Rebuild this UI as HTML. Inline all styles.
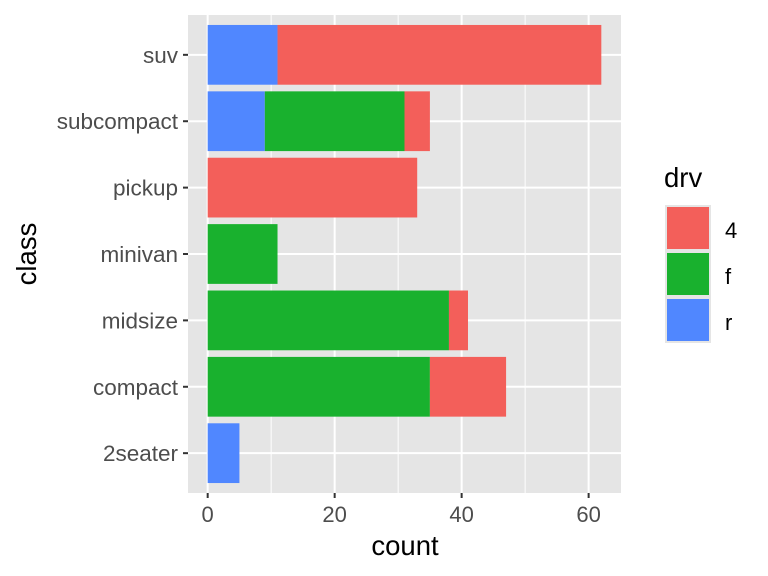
<!DOCTYPE html>
<html><head><meta charset="utf-8"><style>body{margin:0;background:#fff}svg{display:block;font-family:"Liberation Sans",Arial,sans-serif}</style></head>
<body>
<svg id="chart" width="768" height="576" viewBox="0 0 768 576" xmlns="http://www.w3.org/2000/svg">
<rect x="188" y="15" width="433" height="478" fill="#E5E5E5"/>
<g id="grid"></g><g id="bars"></g><g id="axes"></g>
<text x="405" y="555" font-size="27.5" text-anchor="middle">count</text>
<text x="36" y="254" font-size="27.5" text-anchor="middle" transform="rotate(-90 36 254)">class</text>
<g id="legend"><text x="664" y="187" font-size="27.5">drv</text></g>
</svg>
<script>
const categories=["2seater","compact","midsize","minivan","pickup","subcompact","suv"];
const valsR=[5,0,0,0,0,9,11];
const valsF=[0,35,38,11,0,22,0];
const vals4=[0,12,3,0,33,4,51];
const xTicks=[0,20,40,60];
const drvLevels=["4","f","r"];
const colors={"4":"#F35F5A","f":"#19B12E","r":"#5087FF"};
const NS="http://www.w3.org/2000/svg";
const x0=188,x1=621,y0=15,y1=493,xmin=-3.1,xmax=65.1;
const xs=v=>x0+(v-xmin)/(xmax-xmin)*(x1-x0);
const band=(y1-y0)/(categories.length+0.2);
const yc=i=>y1-band*(0.6+i);
function mk(t,a,p){const e=document.createElementNS(NS,t);for(const k in a)e.setAttribute(k,a[k]);(p||document.getElementById('chart')).appendChild(e);return e;}
const g=document.getElementById('grid'),b=document.getElementById('bars'),ax=document.getElementById('axes'),lg=document.getElementById('legend');
for(let i=0;i<xTicks.length-1;i++){const m=(xTicks[i]+xTicks[i+1])/2;const l=mk('line',{x1:xs(m),x2:xs(m),y1:y0,y2:y1,stroke:'#fff','stroke-width':1},g);

}
xTicks.forEach(t=>{const l=mk('line',{x1:xs(t),x2:xs(t),y1:y0,y2:y1,stroke:'#fff','stroke-width':2},g);


const tk=mk('line',{x1:xs(t),x2:xs(t),y1:y1,y2:y1+5,stroke:'#333','stroke-width':2},ax);


const tx=mk('text',{x:xs(t),y:522,'font-size':22,fill:'#4D4D4D','text-anchor':'middle'},ax);tx.textContent=t;

});
categories.forEach((c,i)=>{const y=yc(i);
const l=mk('line',{x1:x0,x2:x1,y1:y,y2:y,stroke:'#fff','stroke-width':2},g);


const tk=mk('line',{x1:x0-5,x2:x0,y1:y,y2:y,stroke:'#333','stroke-width':2},ax);


const tx=mk('text',{x:x0-10,y:y+8,'font-size':22.5,fill:'#4D4D4D','text-anchor':'end'},ax);tx.textContent=c;


let acc=0;[["r",valsR[i]],["f",valsF[i]],["4",vals4[i]]].forEach(([k,v])=>{if(v<=0)return;
const r=mk('rect',{x:xs(acc),width:xs(acc+v)-xs(acc),y:y-band*0.45,height:band*0.9,fill:colors[k]},b);

acc+=v;});});
mk('rect',{x:665,y:205,width:46,height:138,fill:'#E5E5E5'},lg);
drvLevels.forEach((k,i)=>{const ky=205+i*46;
const r=mk('rect',{x:667,y:ky+2,width:42,height:42,fill:colors[k]},lg);


const t=mk('text',{x:725,y:ky+33,'font-size':22,fill:'#000'},lg);t.textContent=k;

});
</script>
</body></html>
